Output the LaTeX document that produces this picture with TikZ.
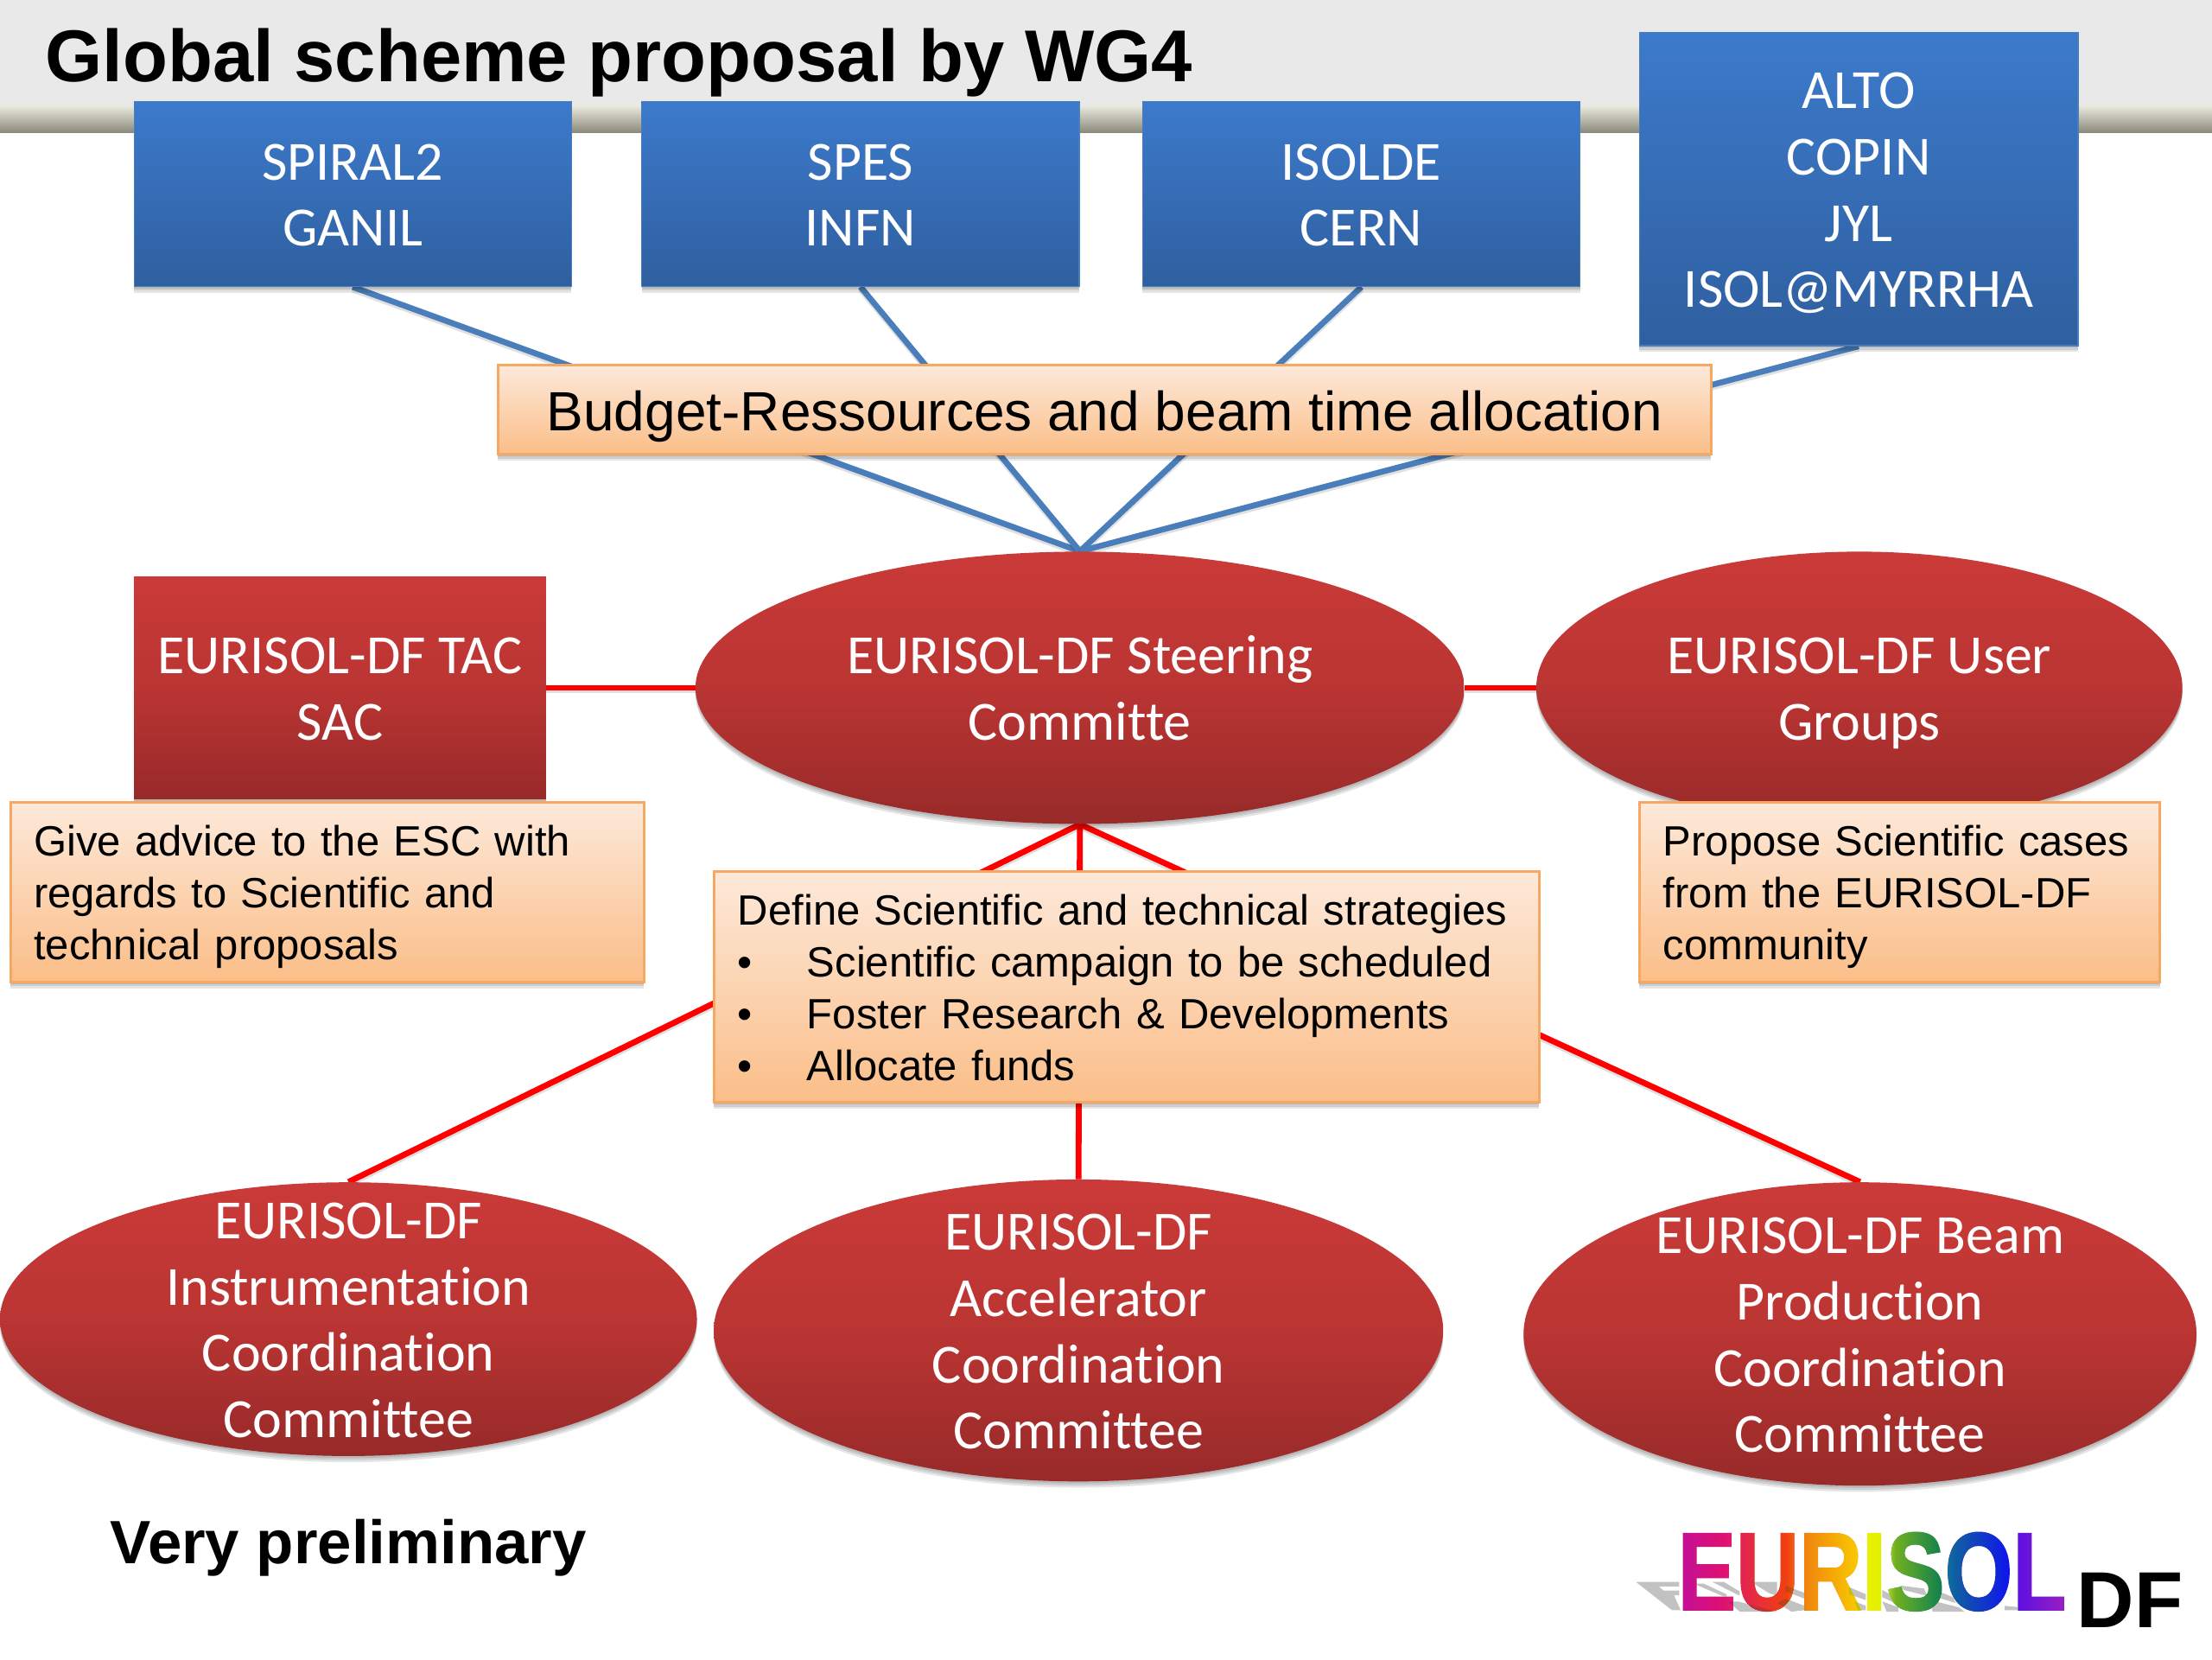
\documentclass[tikz,border=0pt]{standalone}
\usepackage{fontspec}
\setmainfont{Liberation Sans}
\newfontfamily\calfont[Ligatures=NoCommon]{Carlito}
\newfontfamily\logofont[BoldFeatures={FakeBold=1.5}]{Liberation Sans}
\usetikzlibrary{shapes.geometric,shadows}
\def\ux{0.81633pt}
\newcommand\Ctop{\rule{0pt}{31pt}}
\newcommand\Cbot{\rule[-9pt]{0pt}{9pt}}
\newcommand\Otop{\rule{0pt}{25.2pt}}
\newcommand\Obot{\rule[-7pt]{0pt}{7pt}}
\definecolor{bluetop}{HTML}{3C7ACB}
\definecolor{bluebot}{HTML}{2F5F9F}
\definecolor{redtop}{HTML}{CA3A38}
\definecolor{redmid}{HTML}{BA3533}
\definecolor{redbot}{HTML}{972A29}
\definecolor{ortop}{HTML}{FDE9DA}
\definecolor{orbot}{HTML}{FBBE88}
\definecolor{orline}{HTML}{F6A862}
\definecolor{bluelink}{HTML}{4A7EBB}
\definecolor{headgray}{HTML}{E9E9E9}
\definecolor{bandtop}{HTML}{EAE9DE}
\definecolor{bandbot}{HTML}{8A897B}
\definecolor{rb0}{HTML}{C0109A}\definecolor{rb1}{HTML}{E01070}
\definecolor{rb2}{HTML}{E0205A}\definecolor{rb3}{HTML}{F04010}
\definecolor{rb4}{HTML}{F08010}\definecolor{rb5}{HTML}{F8C800}
\definecolor{rb6}{HTML}{E8F000}\definecolor{rb7}{HTML}{E0F000}
\definecolor{rb8}{HTML}{70B020}\definecolor{rb9}{HTML}{108050}
\definecolor{rb10}{HTML}{1060A0}\definecolor{rb11}{HTML}{1010F0}
\definecolor{rb12}{HTML}{6010E0}\definecolor{rb13}{HTML}{9A20C0}
\definecolor{lE}{HTML}{C01070}\definecolor{lU}{HTML}{E02010}
\definecolor{lR}{HTML}{F08000}\definecolor{lI}{HTML}{E0F000}
\definecolor{lS}{HTML}{108020}\definecolor{lO}{HTML}{1010A0}
\definecolor{lL}{HTML}{6010C0}
\pgfdeclarehorizontalshading{rainbow}{100bp}{
 color(0bp)=(rb0); color(25bp)=(rb0); color(31bp)=(rb1); color(32.5bp)=(rb2); color(39bp)=(rb3);
 color(41bp)=(rb4); color(48bp)=(rb5); color(49.5bp)=(rb6); color(51.25bp)=(rb7);
 color(53bp)=(rb8); color(59bp)=(rb9); color(60.5bp)=(rb10); color(68bp)=(rb11);
 color(69bp)=(rb12); color(75bp)=(rb13); color(100bp)=(rb13)}
\tikzset{
 x=0.81633pt,y=-0.81633pt,
 softshadow/.style={
  general shadow={fill=black,opacity=.10,shadow yshift=-1.2pt},
  general shadow={fill=black,opacity=.10,shadow yshift=-2.4pt},
  general shadow={fill=black,opacity=.10,shadow yshift=-3.6pt}},
 bluebox/.style={rectangle,softshadow,top color=bluetop,bottom color=bluebot,draw=bluelink,line width=.6pt,
  text=white,inner sep=0pt,align=center,font=\calfont\fontsize{32}{38.4}\selectfont},
 redbase/.style={softshadow,top color=redtop,bottom color=redbot,middle color=redmid,draw=none,
  text=white,inner sep=0pt,align=center,font=\calfont\fontsize{32}{38.4}\selectfont},
 redbox/.style={redbase,rectangle},
 redoval/.style={redbase,ellipse,inner sep=-100pt},
 orbox/.style={rectangle,softshadow,top color=ortop,bottom color=orbot,draw=orline,line width=1.5pt,
  text=black,inner sep=0pt,align=left,font=\fontsize{24.5}{30}\selectfont},
 sized/.style n args={2}{minimum width=#1*\ux,minimum height=#2*\ux},
 bluelinkline/.style={draw=bluelink,line width=3.4pt,preaction={draw=black,opacity=.12,line width=3.4pt,transform canvas={yshift=-1.5pt}}},
 redlinkline/.style={draw=red,line width=3.4pt,preaction={draw=black,opacity=.12,line width=3.4pt,transform canvas={yshift=-1.5pt}}},
 shadowbar/.style={fill=black!24},
 zoomed/.style={shift={(1151.5,1108.6)},x=0.16670pt,y=-0.16670pt},
}
\pgfdeclarelayer{links}
\pgfsetlayers{links,main}
\begin{document}
\begin{tikzpicture}
\useasboundingbox (0,0) rectangle (1568,1176);
% ---- nodes ----
\node[bluebox,sized={310}{131}] (spiral) at (250,137.5) {\Ctop SPIRAL2\\GANIL\Cbot};
\node[bluebox,sized={310}{131}] (spes) at (610,137.5) {\Ctop SPES\\INFN\Cbot};
\node[bluebox,sized={310}{131}] (isolde) at (965,137.5) {\Ctop ISOLDE\\CERN\Cbot};
\node[bluebox,sized={311}{222}] (alto) at (1317.5,134) {\Ctop ALTO\\COPIN\\JYL\\ISOL@MYRRHA\Cbot};
\node[orbox,sized={860}{63},align=center,font=\fontsize{32}{38}\selectfont] (budget) at (783,290.5) {\rule[-9pt]{0pt}{42pt}Budget-Ressources and beam time allocation};
\node[redbox,sized={292}{157}] (tac) at (241,487.5) {\Ctop EURISOL-DF TAC\\SAC\Cbot};
\node[redoval,sized={545}{193}] (steer) at (765.5,487.5) {\Ctop EURISOL-DF Steering\\Committe\Cbot};
\node[redoval,sized={458}{193}] (user) at (1318,487.5) {\Ctop EURISOL-DF User\\Groups\Cbot};
\node[orbox,sized={449}{127},text width=416*\ux,xshift=.4pt] (give) at (231.5,632.5) {\Otop Give advice to the ESC with\\regards to Scientific and\\technical proposals\Obot};
\node[orbox,sized={369}{127},text width=335*\ux] (propose) at (1346.5,632.5) {\Otop Propose Scientific cases\\from the EURISOL-DF\\community\Obot};
\node[orbox,sized={585}{164},text width=551*\ux] (define) at (798.5,699.5) {\Otop Define Scientific and technical strategies\\
\makebox[49\dimexpr\ux\relax][l]{•}Scientific campaign to be scheduled\\
\makebox[49\dimexpr\ux\relax][l]{•}Foster Research \& Developments\\
\makebox[49\dimexpr\ux\relax][l]{•}Allocate funds\Obot};
\node[redoval,sized={494}{194}] (instr) at (247,935) {\Ctop EURISOL-DF\\Instrumentation\\Coordination\\Committee\Cbot};
\node[redoval,sized={517}{214}] (accel) at (764.5,943) {\Ctop EURISOL-DF\\Accelerator\\Coordination\\Committee\Cbot};
\node[redoval,sized={477}{215}] (beam) at (1318.5,945.5) {\Ctop EURISOL-DF Beam\\Production\\Coordination\\Committee\Cbot};
\node[anchor=base west,inner sep=0pt,font=\bfseries\fontsize{42.5}{50}\selectfont] (title) at (32,58) {Global scheme proposal by WG4};
\node[anchor=base west,inner sep=0pt,font=\bfseries\fontsize{35.4}{40}\selectfont] (prelim) at (78,1108) {Very preliminary};
% ---- behind the nodes ----
\begin{pgfonlayer}{links}
\fill[white] (0,0) rectangle (1568,1176);
\fill[headgray] (0,0) rectangle (1568,75);
\shade[top color=bandtop,bottom color=bandbot] (0,75) rectangle (1568,94);
\foreach \a in {spiral,spes,isolde,alto} \draw[bluelinkline] (\a.south) -- (steer.north);
\draw[redlinkline] (tac.east) -- (steer.west);
\draw[redlinkline] (steer.east) -- (user.west);
\foreach \a in {instr,accel,beam} \draw[redlinkline] (steer.south) -- (\a.north);
\end{pgfonlayer}
% ---- logo ----
\node[anchor=base west,inner sep=0pt] (eurisol) at (1189,1141) {\scalebox{.79}[1]{\logofont\bfseries\fontsize{64}{70}\selectfont
 \textcolor{lE}{E}\textcolor{lU}{U}\textcolor{lR}{R}\textcolor{lI}{I}\textcolor{lS}{S}\textcolor{lO}{O}\textcolor{lL}{L}}};
\begin{scope}[blend mode=lighten]
\shade[shading=rainbow] (eurisol.south west) rectangle (eurisol.north east);
\end{scope}
\begin{scope}[blend mode=darken,zoomed]
\fill[shadowbar] (40,62) -- (190,62) -- (190,78) -- (120,78) -- (135,92) -- (190,92) -- (190,108) -- (172,108) -- (195,160) -- (165,160) -- cycle;
\fill[shadowbar] (240,68) -- (275,68) -- (355,105) -- (355,117) -- cycle;
\fill[shadowbar] (305,62) -- (345,62) -- (400,95) -- (400,110) -- cycle;
\fill[shadowbar] (360,130) -- (395,130) -- (530,165) -- (400,165) -- cycle;
\fill[shadowbar] (440,62) -- (530,62) -- (530,110) -- (500,100) -- cycle;
\fill[shadowbar] (560,75) -- (625,100) -- (625,120) -- (560,95) -- cycle;
\fill[shadowbar] (560,120) -- (625,145) -- (625,160) -- (580,165) -- (530,135) -- cycle;
\fill[shadowbar] (780,80) -- (838,105) -- (838,125) -- (780,105) -- cycle;
\fill[shadowbar] (800,130) -- (838,145) -- (838,160) -- (810,160) -- cycle;
\fill[shadowbar] (895,90) -- (950,120) -- (950,140) -- (895,115) -- cycle;
\fill[shadowbar] (895,130) -- (950,150) -- (950,165) -- (910,165) -- cycle;
\fill[shadowbar] (960,75) -- (1040,85) -- (1050,110) -- (970,90) -- cycle;
\fill[shadowbar] (1080,90) -- (1140,115) -- (1150,135) -- (1100,120) -- cycle;
\fill[shadowbar] (1060,125) -- (1160,150) -- (1180,165) -- (1070,165) -- cycle;
\fill[shadowbar] (1320,145) -- (1370,150) -- (1370,160) -- (1320,160) -- cycle;
\end{scope}
\node[anchor=base west,inner sep=0pt,font=\bfseries\fontsize{46}{50}\selectfont] (df) at (1472,1153.5) {DF};
\end{tikzpicture}
\end{document}
